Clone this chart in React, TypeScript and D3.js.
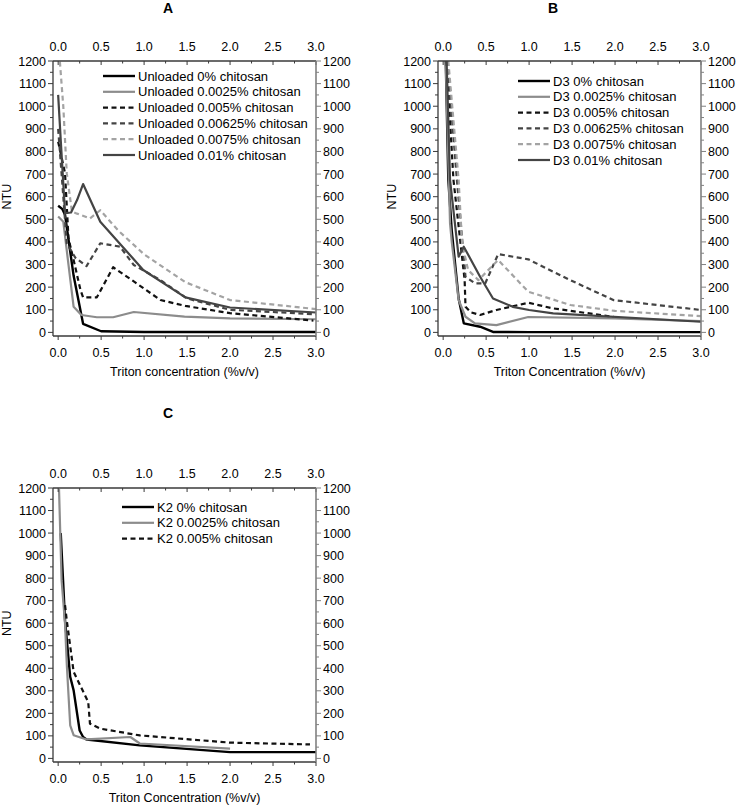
import React from 'react';
import * as d3 from 'd3';

// Panel A: Unloaded
const unloaded0 = [[0, 560], [0.05, 545], [0.08, 520], [0.18, 250], [0.29, 38], [0.5, 5], [1.0, 2], [3.0, 2]];
const unloaded00025 = [[0, 512], [0.06, 489], [0.12, 300], [0.18, 113], [0.27, 77], [0.45, 67], [0.64, 67], [0.88, 90], [1.47, 70], [2.0, 62], [3.0, 58]];
const unloaded0005 = [[0, 843], [0.08, 704], [0.12, 416], [0.18, 320], [0.26, 187], [0.29, 155], [0.45, 155], [0.64, 288], [0.9, 220], [1.19, 143], [1.48, 117], [2.0, 85], [2.97, 52]];
const unloaded000625 = [[0, 900], [0.05, 650], [0.1, 394], [0.2, 330], [0.33, 293], [0.49, 394], [0.72, 379], [0.88, 298], [1.19, 231], [1.5, 150], [2.0, 100], [3.0, 80]];
const unloaded00075 = [[0.02, 1197], [0.06, 998], [0.1, 704], [0.16, 534], [0.22, 525], [0.37, 504], [0.49, 540], [0.7, 450], [1.0, 345], [1.48, 222], [2.0, 143], [3.0, 103]];
const unloaded001 = [[0, 1050], [0.03, 850], [0.08, 527], [0.15, 530], [0.22, 585], [0.29, 656], [0.49, 489], [0.7, 400], [0.99, 276], [1.48, 155], [2.0, 110], [3.0, 88]];

// Panel B: D3
const d3_0 = [[0.03, 1200], [0.06, 674], [0.1, 450], [0.18, 150], [0.24, 40], [0.43, 25], [0.58, 2], [1.0, 1], [3.0, 1]];
const d3_00025 = [[0.03, 1200], [0.08, 482], [0.1, 400], [0.18, 143], [0.26, 69], [0.37, 40], [0.62, 32], [0.99, 68], [2.0, 62], [3.0, 50]];
const d3_0005 = [[0.04, 1200], [0.12, 674], [0.25, 231], [0.26, 113], [0.32, 89], [0.43, 77], [0.62, 99], [0.99, 131], [1.28, 106], [1.98, 69]];
const d3_000625 = [[0.05, 1200], [0.16, 674], [0.26, 246], [0.37, 217], [0.49, 217], [0.64, 346], [0.99, 323], [1.48, 231], [1.98, 143], [3.0, 99]];
const d3_00075 = [[0.06, 1200], [0.18, 674], [0.22, 394], [0.29, 276], [0.41, 231], [0.64, 320], [0.99, 180], [1.48, 121], [2.0, 95], [3.0, 72]];
const d3_001 = [[0.04, 1200], [0.08, 674], [0.18, 335], [0.24, 379], [0.43, 246], [0.58, 150], [0.81, 113], [1.0, 99], [1.28, 84], [3.0, 47]];

// Panel C: K2
const k2_0 = [[0.03, 1000], [0.08, 613], [0.14, 362], [0.18, 302], [0.25, 124], [0.29, 95], [0.33, 84], [0.95, 58], [2.0, 28], [3.0, 28]];
const k2_00025 = [[0.01, 1195], [0.04, 791], [0.08, 598], [0.1, 420], [0.14, 147], [0.18, 103], [0.33, 84], [0.84, 95], [0.95, 66], [2.0, 43]];
const k2_0005 = [[0.08, 680], [0.1, 613], [0.18, 384], [0.35, 250], [0.37, 154], [0.49, 132], [0.95, 102], [2.0, 70], [2.93, 62]];

const xTicks = [0, 0.5, 1.0, 1.5, 2.0, 2.5, 3.0];
const yTicks = [0, 100, 200, 300, 400, 500, 600, 700, 800, 900, 1000, 1100, 1200];

const STYLES = {
  s0: { color: '#000000', dash: null, w: 2.4 },
  s1: { color: '#8c8c8c', dash: null, w: 2.2 },
  s2: { color: '#111111', dash: '5,3.5', w: 2.2 },
  s3: { color: '#444444', dash: '5,3.5', w: 2.2 },
  s4: { color: '#a3a3a3', dash: '5,3.5', w: 2.2 },
  s5: { color: '#444444', dash: null, w: 2.2 },
};

const panels = [
  {
    title: 'A', titleY: 13, left: 53, right: 316, top: 61, bottom: 336, xLabel: 'Triton concentration (%v/v)',
    legend: { x: 103, y: 76 },
    series: [
      { name: 'Unloaded 0% chitosan', data: unloaded0, st: STYLES.s0 },
      { name: 'Unloaded 0.0025% chitosan', data: unloaded00025, st: STYLES.s1 },
      { name: 'Unloaded 0.005% chitosan', data: unloaded0005, st: STYLES.s2 },
      { name: 'Unloaded 0.00625% chitosan', data: unloaded000625, st: STYLES.s3 },
      { name: 'Unloaded 0.0075% chitosan', data: unloaded00075, st: STYLES.s4 },
      { name: 'Unloaded 0.01% chitosan', data: unloaded001, st: STYLES.s5 },
    ],
  },
  {
    title: 'B', titleY: 13, left: 438, right: 701, top: 61, bottom: 336, xLabel: 'Triton Concentration (%v/v)',
    legend: { x: 518, y: 81 },
    series: [
      { name: 'D3 0% chitosan', data: d3_0, st: STYLES.s0 },
      { name: 'D3 0.0025% chitosan', data: d3_00025, st: STYLES.s1 },
      { name: 'D3 0.005% chitosan', data: d3_0005, st: STYLES.s2 },
      { name: 'D3 0.00625% chitosan', data: d3_000625, st: STYLES.s3 },
      { name: 'D3 0.0075% chitosan', data: d3_00075, st: STYLES.s4 },
      { name: 'D3 0.01% chitosan', data: d3_001, st: STYLES.s5 },
    ],
  },
  {
    title: 'C', titleY: 418, left: 53, right: 316, top: 488, bottom: 762, xLabel: 'Triton Concentration (%v/v)',
    legend: { x: 122, y: 507 },
    series: [
      { name: 'K2 0% chitosan', data: k2_0, st: STYLES.s0 },
      { name: 'K2 0.0025% chitosan', data: k2_00025, st: STYLES.s1 },
      { name: 'K2 0.005% chitosan', data: k2_0005, st: STYLES.s2 },
    ],
  },
];

const FONT = "'Liberation Sans', Arial, sans-serif";
const DARK = '#3a3a3a';
const GREY = '#808080';

function Panel({ p }) {
  const x = d3.scaleLinear().domain([-0.06, 3]).range([p.left, p.right]);
  const y = d3.scaleLinear().domain([-16, 1200]).range([p.bottom, p.top]);
  const line = d3.line().x(d => x(d[0])).y(d => y(d[1]));
  const xMinor = d3.range(0.25, 3, 0.5);
  const yMinor = d3.range(50, 1200, 100);
  const cx = (p.left + p.right) / 2;
  return (
    <g fontFamily={FONT}>
      <text x={cx - 16.5} y={p.titleY} textAnchor="middle" fontSize={14} fontWeight="bold">{p.title}</text>
      {p.series.map((s, i) => (
        <path key={i} d={line(s.data)} fill="none" stroke={s.st.color} strokeWidth={s.st.w}
          strokeDasharray={s.st.dash || undefined} strokeLinejoin="round" />
      ))}
      {/* top axis */}
      <line x1={p.left} x2={p.right} y1={p.top} y2={p.top} stroke={DARK} strokeWidth={1.3} />
      {xTicks.map(t => (
        <g key={'tt' + t}>
          <line x1={x(t)} x2={x(t)} y1={p.top} y2={p.top + 4} stroke={DARK} />
          <text x={x(t)} y={p.top - 10} textAnchor="middle" fontSize={12.5}>{t.toFixed(1)}</text>
        </g>
      ))}
      {xMinor.map(t => <line key={'tm' + t} x1={x(t)} x2={x(t)} y1={p.top} y2={p.top + 2.5} stroke={DARK} />)}
      {/* bottom axis */}
      <line x1={p.left} x2={p.right} y1={p.bottom} y2={p.bottom} stroke={DARK} strokeWidth={1.3} />
      {xTicks.map(t => (
        <g key={'bt' + t}>
          <line x1={x(t)} x2={x(t)} y1={p.bottom} y2={p.bottom + 4} stroke={DARK} />
          <text x={x(t)} y={p.bottom + 21} textAnchor="middle" fontSize={12.5}>{t.toFixed(1)}</text>
        </g>
      ))}
      {xMinor.map(t => <line key={'bm' + t} x1={x(t)} x2={x(t)} y1={p.bottom} y2={p.bottom + 2.5} stroke={DARK} />)}
      <text x={cx} y={p.bottom + 40} textAnchor="middle" fontSize={12.5}>{p.xLabel}</text>
      {/* left axis */}
      <line x1={p.left} x2={p.left} y1={p.top} y2={p.bottom} stroke={DARK} strokeWidth={1.3} />
      {yTicks.map(t => (
        <g key={'ly' + t}>
          <line x1={p.left - 5} x2={p.left} y1={y(t)} y2={y(t)} stroke={DARK} />
          <text x={p.left - 7} y={y(t) + 4.5} textAnchor="end" fontSize={12.5}>{t}</text>
        </g>
      ))}
      {yMinor.map(t => <line key={'lm' + t} x1={p.left - 3} x2={p.left} y1={y(t)} y2={y(t)} stroke={DARK} />)}
      <text transform={`translate(${p.left - 42},${y(600)}) rotate(-90)`} textAnchor="middle" fontSize={12.5}>NTU</text>
      {/* right axis */}
      <line x1={p.right} x2={p.right} y1={p.top} y2={p.bottom} stroke={GREY} strokeWidth={1.6} />
      {yTicks.map(t => (
        <g key={'ry' + t}>
          <line x1={p.right} x2={p.right + 5} y1={y(t)} y2={y(t)} stroke={GREY} />
          <text x={p.right + 7} y={y(t) + 4.5} textAnchor="start" fontSize={12.5}>{t}</text>
        </g>
      ))}
      {yMinor.map(t => <line key={'rm' + t} x1={p.right} x2={p.right + 3} y1={y(t)} y2={y(t)} stroke={GREY} />)}
      {/* legend */}
      {p.series.map((s, i) => {
        const ly = p.legend.y + i * 15.8;
        return (
          <g key={'lg' + i}>
            <line x1={p.legend.x} x2={p.legend.x + 32} y1={ly} y2={ly} stroke={s.st.color} strokeWidth={s.st.w}
              strokeDasharray={s.st.dash || undefined} />
            <text x={p.legend.x + 35} y={ly + 4.5} fontSize={13}>{s.name}</text>
          </g>
        );
      })}
    </g>
  );
}

export default function App() {
  return (
    <svg width={738} height={806} style={{ position: 'absolute', left: 0, top: 0, background: '#fff' }}>
      <rect width={738} height={806} fill="#fff" />
      {panels.map(p => <Panel key={p.title} p={p} />)}
    </svg>
  );
}
